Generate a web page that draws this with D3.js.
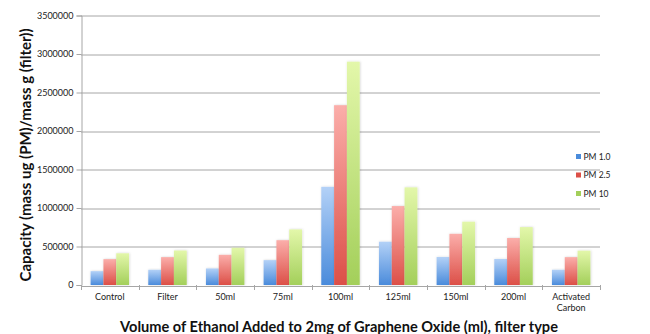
<!DOCTYPE html>
<html>
<head>
<meta charset="utf-8">
<script src="https://cdn.jsdelivr.net/npm/d3@7"></script>
<style>
  html, body { margin: 0; padding: 0; background: #fff; }
  svg { display: block; font-family: Lato, "Open Sans", sans-serif; }
</style>
</head>
<body>
<svg id="chart" width="650" height="334"></svg>
<script>
// Filter capacity by ethanol volume / filter type
const categories = ["Control", "Filter", "50ml", "75ml", "100ml", "125ml", "150ml", "200ml", "Activated Carbon"];
const seriesNames = ["PM 1.0", "PM 2.5", "PM 10"];
const pm10Values = [180000, 198000, 215000, 323000, 1275000, 562000, 364000, 338000, 198000];
const pm25Values = [336000, 362000, 392000, 582000, 2335000, 1025000, 665000, 610000, 362000];
const pm100Values = [412000, 448000, 484000, 722000, 2900000, 1268000, 822000, 752000, 446000];
const yTicks = [0, 500000, 1000000, 1500000, 2000000, 2500000, 3000000, 3500000];

const seriesValues = [pm10Values, pm25Values, pm100Values];
const palette = [
  { top: "#b3d1f7", bottom: "#4a8bdb" },
  { top: "#fbaeaa", bottom: "#dc4f47" },
  { top: "#e3f7aa", bottom: "#a3cf5a" }
];

const svg = d3.select("#chart");
const margin = { left: 81, top: 15.5 };
const plotW = 600 - margin.left;
const plotH = 285 - margin.top;

const defs = svg.append("defs");
palette.forEach((c, i) => {
  const g = defs.append("linearGradient")
    .attr("id", "grad" + i).attr("x1", 0).attr("y1", 0).attr("x2", 0).attr("y2", 1);
  g.append("stop").attr("offset", "0%").attr("stop-color", c.top);
  g.append("stop").attr("offset", "100%").attr("stop-color", c.bottom);
});
const shadow = defs.append("filter").attr("id", "soft").attr("x", "-30%").attr("y", "-10%").attr("width", "160%").attr("height", "120%");
shadow.append("feDropShadow").attr("dx", 0.5).attr("dy", 0).attr("stdDeviation", 0.8).attr("flood-color", "#000").attr("flood-opacity", 0.18);

const g = svg.append("g").attr("transform", `translate(${margin.left},${margin.top})`);

const x = d3.scaleBand().domain(categories).range([0, plotW]).paddingInner(0).paddingOuter(0);
const bandInner = 3 / 4.5;
const x1 = d3.scaleBand().domain(seriesNames)
  .range([x.bandwidth() * (1 - bandInner) / 2, x.bandwidth() * (1 + bandInner) / 2]).padding(0);
const y = d3.scaleLinear().domain([0, 3500000]).range([plotH, 0]);

// horizontal gridlines
g.append("g").selectAll("line").data(yTicks.filter(d => d > 0)).join("line")
  .attr("x1", 0).attr("x2", plotW)
  .attr("y1", d => Math.round(y(d)) + 0.5).attr("y2", d => Math.round(y(d)) + 0.5)
  .attr("stroke", "#a6a6a6").attr("stroke-width", 1);

// y axis
const yAxis = g.append("g").attr("transform", "translate(0.5,0)")
  .call(d3.axisLeft(y).tickValues(yTicks).tickFormat(d3.format("d")).tickSize(5).tickPadding(3));
yAxis.select(".domain").attr("stroke", "#a6a6a6");
yAxis.selectAll(".tick line").attr("stroke", "#a6a6a6");
yAxis.selectAll(".tick text").attr("font-size", 9).attr("fill", "#222")
  .attr("font-family", "Lato, sans-serif");

// bars
const groups = g.append("g").selectAll("g").data(categories).join("g")
  .attr("transform", d => `translate(${x(d)},0)`);
groups.selectAll("rect").data((d, ci) => seriesNames.map((s, si) => ({ s, si, v: seriesValues[si][ci] })))
  .join("rect")
  .attr("x", d => x1(d.s))
  .attr("width", x1.bandwidth())
  .attr("y", d => y(d.v))
  .attr("height", d => plotH - y(d.v))
  .attr("fill", d => `url(#grad${d.si})`)
  .attr("filter", "url(#soft)");

// x axis
const xAxis = g.append("g").attr("transform", `translate(0,${Math.round(plotH) + 0.5})`)
  .call(d3.axisBottom(x).tickSize(0).tickFormat(""));
xAxis.select(".domain").attr("stroke", "#a6a6a6");
// category separators
g.append("g").selectAll("line").data(d3.range(categories.length + 1)).join("line")
  .attr("x1", i => Math.round(i * x.bandwidth()) + 0.5)
  .attr("x2", i => Math.round(i * x.bandwidth()) + 0.5)
  .attr("y1", plotH).attr("y2", plotH + 5)
  .attr("stroke", "#a6a6a6");

// category labels
const catLabels = g.append("g").selectAll("text").data(categories).join("text")
  .attr("x", d => x(d) + x.bandwidth() / 2)
  .attr("y", plotH + 15)
  .attr("text-anchor", "middle")
  .attr("font-size", 9).attr("fill", "#222");
catLabels.each(function(d) {
  const words = d.split(" ");
  const t = d3.select(this);
  words.forEach((w, i) => t.append("tspan").attr("x", x(d) + x.bandwidth() / 2).attr("dy", i === 0 ? 0 : 11).text(w));
});

// axis titles
svg.append("text")
  .attr("transform", `translate(31,155) rotate(-90)`)
  .attr("text-anchor", "middle")
  .attr("font-size", 15).attr("font-weight", "bold").attr("fill", "#111")
  .text("Capacity (mass ug (PM)/mass g (filter))");

svg.append("text")
  .attr("x", 339).attr("y", 331.5)
  .attr("text-anchor", "middle")
  .attr("font-size", 14.6).attr("font-weight", "bold").attr("fill", "#111")
  .text("Volume of Ethanol Added to 2mg of Graphene Oxide (ml), filter type");

// legend
const legend = svg.append("g").attr("transform", "translate(576,157)");
const li = legend.selectAll("g").data(seriesNames).join("g")
  .attr("transform", (d, i) => `translate(0,${i * 18.5})`);
li.append("rect").attr("x", 0).attr("y", -3).attr("width", 5).attr("height", 5)
  .attr("fill", (d, i) => palette[i].bottom);
li.append("text").attr("x", 7.5).attr("y", 2.5).attr("font-size", 8.5).attr("fill", "#222").text(d => d);
</script>
</body>
</html>
